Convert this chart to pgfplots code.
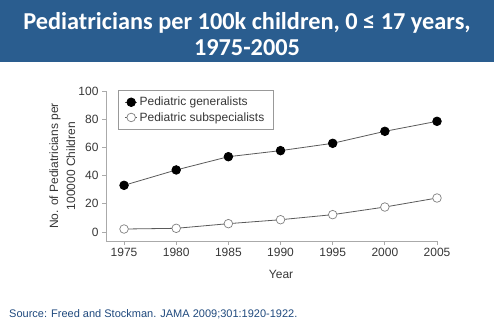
\documentclass[border=0pt]{standalone}
\usepackage{fontspec}
\setmainfont{Liberation Sans}
\newfontfamily\titlefont{Carlito}
\usepackage{pgfplots}
\pgfplotsset{compat=1.18}
\definecolor{banner}{RGB}{42,93,143}
\definecolor{srcblue}{RGB}{31,73,125}
\definecolor{txtgray}{RGB}{55,55,55}
\definecolor{axgray}{RGB}{170,170,170}
\definecolor{lngray}{RGB}{90,90,90}
\begin{document}
\begin{tikzpicture}[x=1pt,y=1pt]
\useasboundingbox (0,0) rectangle (494,325);
\fill[banner] (0,263) rectangle (494,325);
\node[anchor=base, text=white, inner sep=0pt, font=\titlefont\bfseries\fontsize{24.3}{26}\selectfont] at (247,296) {Pediatricians per 100k children, 0 ≤ 17 years,};
\node[anchor=base, text=white, inner sep=0pt, font=\titlefont\bfseries\fontsize{24.3}{26}\selectfont] at (247,270) {1975-2005};
\node[anchor=base west, inner sep=0pt, text=srcblue, font=\fontsize{11}{13}\selectfont] at (9,8) {Source: Freed and Stockman. JAMA 2009;301:1920-1922.};
\begin{axis}[
  at={(106pt,84pt)}, anchor=south west,
  scale only axis, width=331pt, height=150pt,
  xmin=1973.27, xmax=2005, ymin=-6.4, ymax=100,
  axis x line*=bottom, axis y line*=left,
  axis line style={axgray, line width=0.8pt, -},
  xtick={1975,1980,...,2005}, ytick={0,20,...,100},
  tick align=outside, major tick length=4pt,
  tick style={axgray, line width=0.8pt},
  /pgf/number format/assume math mode=true,
  x tick label style={/pgf/number format/1000 sep={}},
  tick label style={font=\fontsize{12}{14}\selectfont, text=txtgray},
  xlabel={Year}, ylabel={No. of Pediatricians per\\100000 Children},
  xlabel style={at={(axis description cs:0.529,-0.22)}, anchor=center, font=\fontsize{12}{14}\selectfont, text=txtgray},
  ylabel style={at={(axis description cs:-0.132,0.5)}, anchor=center, align=center, font=\fontsize{12}{17}\selectfont, text=txtgray},
  legend style={at={(axis description cs:0.035,1.007)}, anchor=north west, draw=gray!80, font=\fontsize{12}{14}\selectfont, text=txtgray, inner xsep=7pt, inner ysep=5pt, row sep=1pt, cells={anchor=west}},
  legend image code/.code={\path (0pt,0pt) -- (12pt,0pt); \draw[#1, only marks] plot coordinates {(6pt,0pt)};},
  legend cell align=left,
]
\addplot[color=lngray, line width=0.8pt, mark=*, mark size=4.3pt, mark options={fill=black, draw=black}] coordinates {
(1975,33.1) (1980,44) (1985,53.4) (1990,57.7) (1995,62.9) (2000,71.4) (2005,78.5)};
\addlegendentry{Pediatric generalists}
\addplot[color=lngray, line width=0.8pt, mark=*, mark size=4.3pt, mark options={fill=white, draw=gray, line width=0.7pt}] coordinates {
(1975,2.1) (1980,2.6) (1985,5.9) (1990,8.7) (1995,12.3) (2000,17.7) (2005,24.1)};
\addlegendentry{Pediatric subspecialists}
\end{axis}
\end{tikzpicture}
\end{document}
